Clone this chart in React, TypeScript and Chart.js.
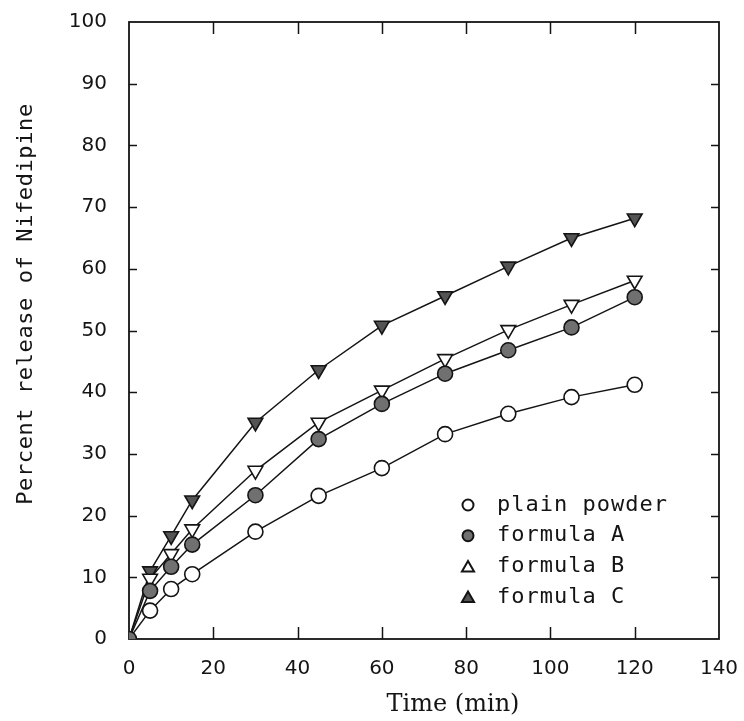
import React, { useEffect, useRef } from 'react';
import { Chart, registerables } from 'chart.js';

Chart.register(...registerables);

// ---- data ----
const TIME = [0, 5, 10, 15, 30, 45, 60, 75, 90, 105, 120];
const PLAIN_POWDER = [0, 4.6, 8.1, 10.5, 17.4, 23.2, 27.7, 33.2, 36.5, 39.2, 41.2];
const FORMULA_A = [0, 7.8, 11.7, 15.3, 23.3, 32.4, 38.1, 43.0, 46.8, 50.5, 55.4];
const FORMULA_B = [0, 9.8, 13.8, 17.8, 27.3, 35.1, 40.3, 45.4, 50.1, 54.2, 58.1];
const FORMULA_C = [0, 11.0, 16.7, 22.5, 35.1, 43.6, 50.8, 55.6, 60.4, 65.0, 68.2];

const SERIES_LABELS = ['plain powder', 'formula A', 'formula B', 'formula C'];
const X_TITLE = 'Time (min)';
const Y_TITLE = 'Percent release of Nifedipine';
const X_MIN = 0, X_MAX = 140, X_STEP = 20;
const Y_MIN = 0, Y_MAX = 100, Y_STEP = 10;

const INK = '#141414';
const GRAY_A = '#707070';
const GRAY_C = '#545454';

const toPoints = (ys: number[]) => TIME.map((t, i) => ({ x: t, y: ys[i] }));
const hideFirst = (r: number) => (c: any) => (c.dataIndex === 0 ? 0 : r);

const legendShapes = ['circle', 'circle', 'triangle', 'triangle'];

const framePlugin = {
  id: 'frameTicks',
  beforeDatasetsDraw(chart: any) {
    const { ctx, chartArea: a, scales } = chart;
    const x = scales.x, y = scales.y;
    ctx.save();
    ctx.strokeStyle = INK;
    ctx.lineWidth = 1.8;
    ctx.strokeRect(a.left, a.top, a.right - a.left, a.bottom - a.top);
    ctx.lineWidth = 1.5;
    ctx.beginPath();
    y.ticks.forEach((t: any) => {
      if (t.value <= Y_MIN || t.value >= Y_MAX) return;
      const py = Math.round(y.getPixelForValue(t.value)) + 0.5;
      ctx.moveTo(a.left, py); ctx.lineTo(a.left + 8, py);
      ctx.moveTo(a.right, py); ctx.lineTo(a.right - 8, py);
    });
    x.ticks.forEach((t: any) => {
      if (t.value <= X_MIN || t.value >= X_MAX) return;
      const px = Math.round(x.getPixelForValue(t.value)) + 0.5;
      ctx.moveTo(px, a.bottom); ctx.lineTo(px, a.bottom - 12);
      ctx.moveTo(px, a.top); ctx.lineTo(px, a.top + 12);
    });
    ctx.stroke();
    ctx.restore();
  },
  afterDraw(chart: any) {
    const { ctx, chartArea: a } = chart;
    ctx.save();
    ctx.fillStyle = INK;
    // x title
    ctx.font = '24px "DejaVu Serif"';
    ctx.textAlign = 'center';
    ctx.textBaseline = 'middle';
    ctx.fillText(X_TITLE, a.left + 324, a.bottom + 66);
    // y title
    ctx.save();
    ctx.translate(a.left - 103, a.top + 282);
    ctx.rotate(-Math.PI / 2);
    ctx.font = '22px "DejaVu Sans Mono"';
    (ctx as any).letterSpacing = '0.6px';
    ctx.fillText(Y_TITLE, 0, 0);
    ctx.restore();
    // legend
    const lx = a.left + 339;
    const ly = a.top + 483;
    const step = 30.7;
    chart.data.datasets.forEach((ds: any, i: number) => {
      const cy = ly + i * step;
      ctx.beginPath();
      if (legendShapes[i] === 'circle') {
        ctx.arc(lx, cy, 5.5, 0, Math.PI * 2);
      } else {
        const r = 7;
        for (let k = 0; k < 3; k++) {
          const ang = (k * 2 * Math.PI) / 3;
          const px = lx + Math.sin(ang) * r;
          const py = cy + 1.5 - Math.cos(ang) * r;
          if (k === 0) ctx.moveTo(px, py); else ctx.lineTo(px, py);
        }
        ctx.closePath();
      }
      ctx.fillStyle = ds.pointBackgroundColor;
      ctx.fill();
      ctx.lineWidth = 2;
      ctx.strokeStyle = INK;
      ctx.stroke();
      ctx.fillStyle = INK;
      ctx.font = '22px "DejaVu Sans Mono"';
      (ctx as any).letterSpacing = '1px';
      ctx.textAlign = 'left';
      ctx.textBaseline = 'middle';
      ctx.fillText(ds.label, lx + 29, cy);
    });
    ctx.restore();
  },
};

const noOverhang = (s: any) => {
  s.paddingTop = 0; s.paddingBottom = 0; s.paddingLeft = 0; s.paddingRight = 0;
};

export default function App() {
  const ref = useRef<HTMLCanvasElement | null>(null);

  useEffect(() => {
    if (!ref.current) return;
    const common = {
      borderColor: INK,
      borderWidth: 1.5,
      pointBorderColor: INK,
      pointBorderWidth: 1.6,
      tension: 0,
      fill: false,
    };
    const chart = new Chart(ref.current, {
      type: 'line',
      data: {
        datasets: [
          {
            ...common,
            label: SERIES_LABELS[0],
            data: toPoints(PLAIN_POWDER),
            pointStyle: 'circle',
            pointRadius: hideFirst(7.5),
            pointBackgroundColor: '#ffffff',
            order: 2,
          },
          {
            ...common,
            label: SERIES_LABELS[1],
            data: toPoints(FORMULA_A),
            pointStyle: 'circle',
            pointRadius: 7.5,
            pointBackgroundColor: GRAY_A,
            order: 0,
          },
          {
            ...common,
            label: SERIES_LABELS[2],
            data: toPoints(FORMULA_B),
            pointStyle: 'triangle',
            pointRotation: 180,
            pointRadius: hideFirst(8.5),
            pointBackgroundColor: '#ffffff',
            order: 1,
          },
          {
            ...common,
            label: SERIES_LABELS[3],
            data: toPoints(FORMULA_C),
            pointStyle: 'triangle',
            pointRotation: 180,
            pointRadius: hideFirst(8.5),
            pointBackgroundColor: GRAY_C,
            order: 3,
          },
        ] as any,
      },
      options: {
        animation: false,
        responsive: true,
        maintainAspectRatio: false,
        layout: { padding: { top: 22, right: 25, left: 0, bottom: 0 } },
        plugins: { legend: { display: false }, tooltip: { enabled: false } },
        scales: {
          x: {
            type: 'linear',
            min: X_MIN,
            max: X_MAX,
            grid: { display: false, drawTicks: false },
            border: { display: false },
            ticks: {
              stepSize: X_STEP,
              padding: 18,
              color: INK,
              font: { family: 'DejaVu Sans', size: 20 },
              maxRotation: 0,
            },
            afterFit: (s: any) => { s.height = 82; noOverhang(s); },
          },
          y: {
            type: 'linear',
            min: Y_MIN,
            max: Y_MAX,
            grid: { display: false, drawTicks: false },
            border: { display: false },
            ticks: {
              stepSize: Y_STEP,
              padding: 22,
              color: INK,
              font: { family: 'DejaVu Sans', size: 20 },
            },
            afterFit: (s: any) => { s.width = 129; noOverhang(s); },
          },
        },
      } as any,
      plugins: [framePlugin],
    });
    return () => chart.destroy();
  }, []);

  return (
    <div style={{ position: 'fixed', left: 0, top: 0, width: 744, height: 721, background: '#fff' }}>
      <canvas ref={ref} />
    </div>
  );
}
